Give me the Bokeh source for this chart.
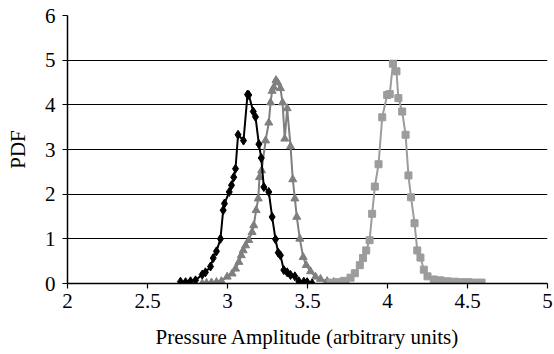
from bokeh.plotting import figure
from bokeh.models import Range1d, FixedTicker
from bokeh.embed import file_html
from bokeh.resources import INLINE

# Series 1 (black diamonds)
x_black = [2.706, 2.738, 2.769, 2.800, 2.842, 2.862, 2.894, 2.911, 2.931, 2.956,
           2.973, 2.981, 3.011, 3.025, 3.039, 3.050, 3.066, 3.100, 3.125, 3.133,
           3.161, 3.175, 3.196, 3.211, 3.227, 3.258, 3.279, 3.300, 3.317, 3.331,
           3.352, 3.373, 3.394, 3.421, 3.446, 3.477, 3.498, 3.529]
y_black = [0.04, 0.03, 0.05, 0.07, 0.20, 0.25, 0.38, 0.57, 0.72, 1.00,
           1.64, 1.79, 2.05, 2.20, 2.38, 2.57, 3.33, 3.20, 4.23, 4.22,
           3.85, 3.73, 3.12, 2.81, 2.16, 2.05, 1.49, 0.99, 0.69, 0.63,
           0.30, 0.25, 0.19, 0.16, 0.05, 0.04, 0.03, 0.00]

# Series 2 (dark grey triangles)
x_tri = [2.842, 2.869, 2.900, 2.931, 2.962, 2.998, 3.029, 3.050, 3.071, 3.086,
         3.098, 3.113, 3.133, 3.154, 3.164, 3.179, 3.192, 3.200, 3.213, 3.238,
         3.258, 3.269, 3.279, 3.289, 3.303, 3.313, 3.331, 3.344, 3.358, 3.373,
         3.394, 3.408, 3.421, 3.433, 3.452, 3.473, 3.492, 3.519, 3.550, 3.581,
         3.623, 3.664, 3.706, 3.744]
y_tri = [0.00, 0.01, 0.02, 0.03, 0.05, 0.15, 0.22, 0.33, 0.48, 0.63,
         0.74, 0.85, 0.97, 1.15, 1.30, 1.64, 1.90, 2.38, 2.53, 3.20,
         3.60, 4.05, 4.31, 4.39, 4.55, 4.50, 4.37, 4.05, 3.24, 3.92,
         3.07, 2.33, 1.90, 1.49, 1.00, 0.59, 0.41, 0.27, 0.15, 0.10,
         0.05, 0.03, 0.02, 0.01]

# Series 3 (light grey squares)
x_sq = [3.644, 3.686, 3.727, 3.769, 3.796, 3.827, 3.847, 3.867, 3.888, 3.904,
        3.921, 3.944, 3.967, 3.998, 4.014, 4.034, 4.056, 4.068, 4.092, 4.113,
        4.131, 4.147, 4.169, 4.186, 4.206, 4.227, 4.250, 4.289, 4.331, 4.375,
        4.419, 4.463, 4.506, 4.550, 4.588]
y_sq = [0.02, 0.03, 0.06, 0.13, 0.23, 0.41, 0.57, 0.74, 0.97, 1.56,
        2.17, 2.67, 3.72, 4.22, 4.24, 4.92, 4.75, 4.15, 3.85, 3.33,
        2.42, 1.93, 1.35, 0.74, 0.58, 0.31, 0.16, 0.09, 0.07, 0.05,
        0.04, 0.03, 0.03, 0.02, 0.02]

x_ticks = [2, 2.5, 3, 3.5, 4, 4.5, 5]
y_ticks = [0, 1, 2, 3, 4, 5, 6]

FONT = "Liberation Serif"

p = figure(width=554, height=354, output_backend="svg", toolbar_location=None,
           x_range=Range1d(2, 5), y_range=Range1d(0, 6),
           min_border_left=67, min_border_right=7, min_border_top=15,
           min_border_bottom=71, background_fill_color="white",
           border_fill_color="white")
p.outline_line_color = None

p.xaxis.ticker = FixedTicker(ticks=x_ticks)
p.yaxis.ticker = FixedTicker(ticks=y_ticks)
p.xaxis.major_label_overrides = {2: "2", 2.5: "2.5", 3: "3", 3.5: "3.5", 4: "4", 4.5: "4.5", 5: "5"}
for ax in (p.xaxis, p.yaxis):
    ax.axis_line_color = "black"
    ax.axis_line_width = 1.5
    ax.major_tick_line_color = "black"
    ax.major_tick_line_width = 1.2
    ax.major_tick_in = 0
    ax.major_tick_out = 5
    ax.minor_tick_line_color = None
    ax.major_label_text_font = FONT
    ax.major_label_text_font_size = "21px"
    ax.major_label_text_color = "black"
    ax.axis_label_text_font = FONT
    ax.axis_label_text_font_size = "21px"
    ax.axis_label_text_font_style = "normal"
    ax.axis_label_text_color = "black"
p.xaxis.axis_label = "Pressure Amplitude (arbitrary units)"
p.yaxis.axis_label = "PDF"
p.xaxis.major_label_standoff = 5
p.xaxis.axis_label_standoff = 14
p.yaxis.major_label_standoff = 7
p.yaxis.axis_label_standoff = 12

p.xgrid.grid_line_color = None
p.ygrid.grid_line_color = "black"
p.ygrid.grid_line_width = 1.2
p.ygrid.ticker = FixedTicker(ticks=y_ticks)

p.line(x_tri, y_tri, line_color="#7f7f7f", line_width=2)
p.scatter(x_tri, y_tri, marker="triangle", size=8, fill_color="#7f7f7f", line_color="#7f7f7f")

p.line(x_sq, y_sq, line_color="#9c9c9c", line_width=2)
p.scatter(x_sq, y_sq, marker="square", size=7, fill_color="#9c9c9c", line_color="#9c9c9c")

p.line(x_black, y_black, line_color="black", line_width=2)
p.scatter(x_black, y_black, marker="diamond", size=9, fill_color="black", line_color="black")

open("out.html", "w").write(file_html(p, INLINE))
